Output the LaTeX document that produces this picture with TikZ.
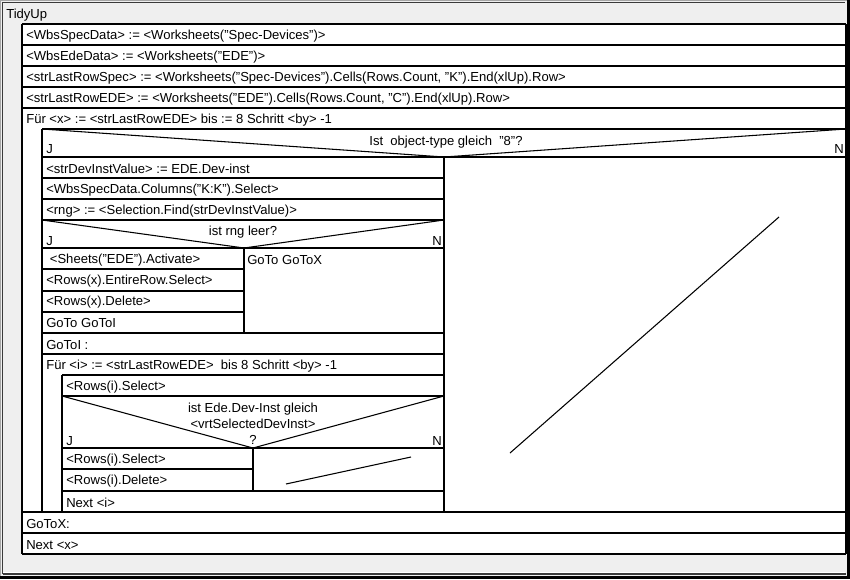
\documentclass[tikz,border=0pt]{standalone}
\usepackage{fontspec}
\setmainfont{Liberation Sans}
\definecolor{panel}{HTML}{EFEFEF}
\definecolor{edge}{HTML}{3A3A3A}
\begin{document}
\begin{tikzpicture}[x=0.75pt,y=-0.75pt,
  ln/.style={draw=black,line width=0.8pt},
  txt/.style={anchor=west,inner sep=0pt,yshift=-0.9pt,text=black,font=\fontsize{9.8}{11.5}\selectfont},
  ctxt/.style={anchor=center,inner sep=0pt,yshift=-0.9pt,text=black,align=center,font=\fontsize{9.8}{11.5}\selectfont}]
\useasboundingbox (0,0) rectangle (850,579);
% window panel
\fill[panel] (0,0) rectangle (850,579);
\draw[draw=gray!70,line width=0.8pt] (0.5,578) -- (0.5,0.5) -- (849,0.5);
\draw[draw=edge,line width=0.8pt] (2.5,574) -- (2.5,2.5) -- (845,2.5);
\draw[draw=white,line width=0.8pt] (3,573) -- (845,573);
\draw[draw=edge,line width=0.8pt] (2.5,574) -- (846,574);
\draw[draw=black,line width=2.2pt] (0,577.5) -- (848.5,577.5) -- (848.5,0);
\node[txt] (title) at (6,14) {TidyUp};

% diagram area
\fill[white] (22,24) rectangle (846,554);

% sequence rows of the outer block
\foreach \y in {24,45,66,87,108}
  \draw[ln] (22,\y) -- (846,\y);
\draw[ln] (42,129) -- (846,129);
\draw[ln] (42,157) -- (846,157);
\foreach \y in {512,533,554}
  \draw[ln] (22,\y) -- (846,\y);
\draw[ln] (22,24) -- (22,554);
\draw[ln] (846,24) -- (846,554);
\draw[ln] (42,129) -- (42,512);
\draw[ln] (444,157) -- (444,512);

% outer decision
\draw[ln] (42,129) -- (444,157) -- (846,129);
% "ja" branch of the outer decision
\foreach \y in {178,199,220}
  \draw[ln] (42,\y) -- (444,\y);
\draw[ln] (42,220) -- (244,248) -- (444,220);
\draw[ln] (42,248) -- (444,248);
\foreach \y in {269,291,312}
  \draw[ln] (42,\y) -- (244,\y);
\draw[ln] (244,248) -- (244,333);
\foreach \y in {333,354}
  \draw[ln] (42,\y) -- (444,\y);
% inner loop
\draw[ln] (62,375) -- (444,375);
\draw[ln] (62,396) -- (444,396);
\draw[ln] (62,396) -- (253,448) -- (444,396);
\draw[ln] (62,448) -- (444,448);
\draw[ln] (62,469) -- (253,469);
\draw[ln] (62,491) -- (444,491);
\draw[ln] (62,375) -- (62,512);
\draw[ln] (253,448) -- (253,491);
% empty branches
\draw[ln] (510,453) -- (779,217);
\draw[ln] (286,484) -- (411,457);

% texts
\node[txt] (s1) at (26,35) {<WbsSpecData> := <Worksheets("Spec-Devices")>};
\node[txt] (s2) at (26,56) {<WbsEdeData> := <Worksheets("EDE")>};
\node[txt] (s3) at (26,77) {<strLastRowSpec> := <Worksheets("Spec-Devices").Cells(Rows.Count, "K").End(xlUp).Row>};
\node[txt] (s4) at (26,98) {<strLastRowEDE> := <Worksheets("EDE").Cells(Rows.Count, "C").End(xlUp).Row>};
\node[txt] (loopx) at (26,119) {Für <x> := <strLastRowEDE> bis := 8 Schritt <by> -1};
\node[ctxt] (d1) at (446,141) {Ist\ \ object-type gleich\ \ "8"?};
\node[txt] (d1j) at (46,148) {J};
\node[txt] (d1n) at (834,148) {N};
\node[txt] (a1) at (46,168) {<strDevInstValue> := EDE.Dev-inst};
\node[txt] (a2) at (46,189) {<WbsSpecData.Columns("K:K").Select>};
\node[txt] (a3) at (46,210) {<rng> := <Selection.Find(strDevInstValue)>};
\node[ctxt] (d2) at (243,231) {ist rng leer?};
\node[txt] (d2j) at (46,240) {J};
\node[txt] (d2n) at (432,240) {N};
\node[txt] (b1) at (46,259) {\ <Sheets("EDE").Activate>};
\node[txt] (b2) at (46,280) {<Rows(x).EntireRow.Select>};
\node[txt] (b3) at (46,301) {<Rows(x).Delete>};
\node[txt] (b4) at (46,322) {GoTo GoToI};
\node[txt] (c1) at (247,259) {GoTo GoToX};
\node[txt] (gi) at (46,344) {GoToI :};
\node[txt] (loopi) at (46,365) {Für <i> := <strLastRowEDE>\ \ bis 8 Schritt <by> -1};
\node[txt] (r1) at (66,386) {<Rows(i).Select>};
\node[ctxt] (d3a) at (253,408) {ist Ede.Dev-Inst gleich};
\node[ctxt] (d3b) at (253,423) {<vrtSelectedDevInst>};
\node[ctxt] (d3c) at (253,439) {?};
\node[txt] (d3j) at (66,440) {J};
\node[txt] (d3n) at (432,440) {N};
\node[txt] (r2) at (66,459) {<Rows(i).Select>};
\node[txt] (r3) at (66,480) {<Rows(i).Delete>};
\node[txt] (ni) at (66,502) {Next <i>};
\node[txt] (gx) at (26,523) {GoToX:};
\node[txt] (nx) at (26,544) {Next <x>};
\end{tikzpicture}
\end{document}
